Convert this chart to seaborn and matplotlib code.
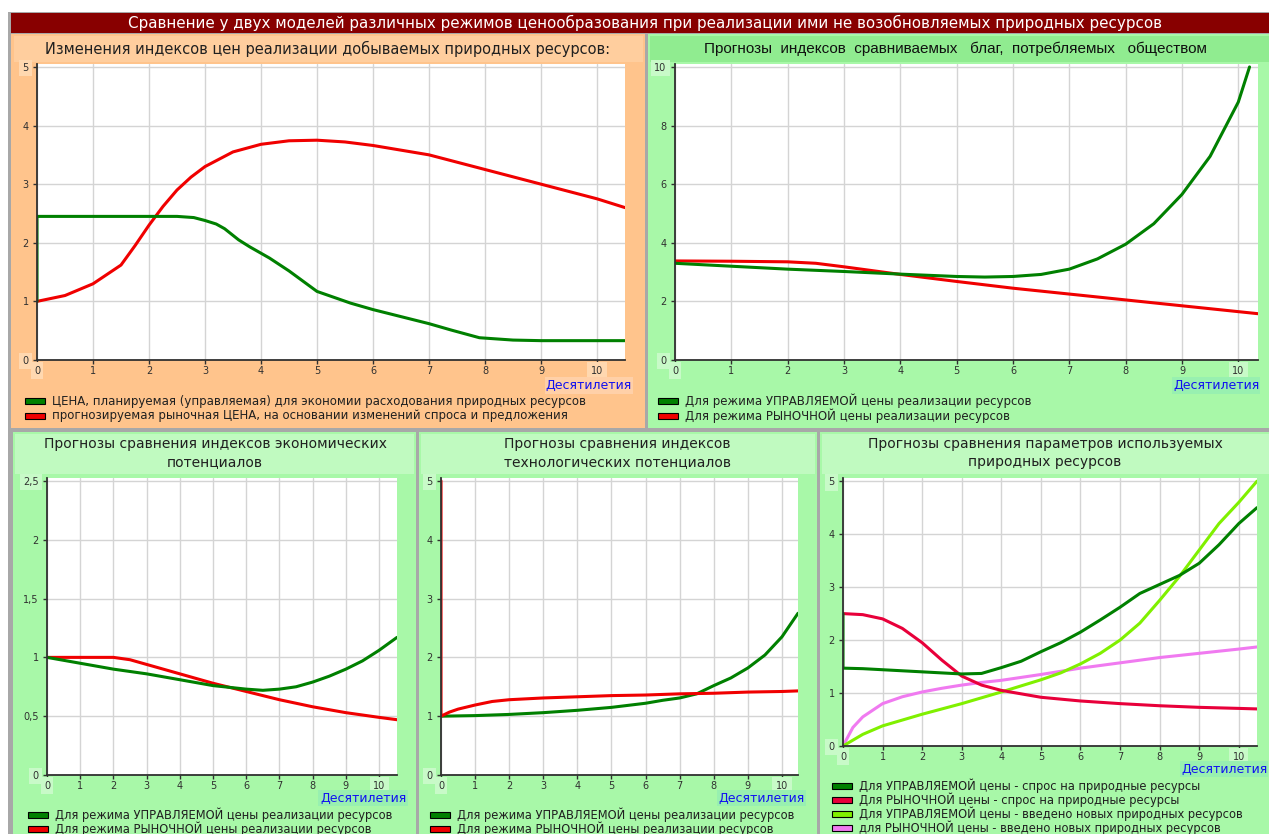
import matplotlib
matplotlib.use("Agg")
import matplotlib.pyplot as plt
from matplotlib.patches import Rectangle
import seaborn as sns
import pandas as pd

# ---------------- data ----------------
main_title = "Сравнение у двух моделей различных режимов ценообразования при реализации ими не возобновляемых природных ресурсов"
xticks = list(range(11))
xtick_labels = [str(i) for i in xticks]
x_label = "Десятилетия"

# top-left: price indices
tl_title = "Изменения индексов цен реализации добываемых природных ресурсов:"
tl_green_x = [0, 0, 0.5, 1, 1.5, 2, 2.5, 2.8, 3.0, 3.2, 3.35, 3.6, 3.8, 4.15, 4.5, 5.0, 5.6, 6.0, 6.5, 7.0, 7.4, 7.9, 8.5, 9.0, 10.5]
tl_green_y = [1.0, 2.45, 2.45, 2.45, 2.45, 2.45, 2.45, 2.43, 2.38, 2.32, 2.24, 2.05, 1.93, 1.74, 1.52, 1.17, 0.97, 0.86, 0.74, 0.62, 0.51, 0.38, 0.34, 0.33, 0.33]
tl_red_x = [0, 0.5, 1.0, 1.5, 1.75, 2.0, 2.25, 2.5, 2.75, 3.0, 3.5, 4.0, 4.5, 5.0, 5.5, 6.0, 7.0, 8.0, 9.0, 10.0, 10.5]
tl_red_y = [1.0, 1.1, 1.3, 1.62, 1.95, 2.3, 2.62, 2.9, 3.12, 3.3, 3.55, 3.68, 3.74, 3.75, 3.72, 3.66, 3.5, 3.25, 3.0, 2.75, 2.6]
tl_yticks = [0, 1, 2, 3, 4, 5]
tl_legend = ["ЦЕНА, планируемая (управляемая) для экономии расходования природных ресурсов",
             "прогнозируемая рыночная ЦЕНА, на основании изменений спроса и предложения"]

# top-right: goods indices
tr_title = "Прогнозы  индексов  сравниваемых   благ,  потребляемых   обществом"
tr_green_x = [0, 1, 2, 3, 4, 5, 5.5, 6, 6.5, 7, 7.5, 8, 8.5, 9, 9.5, 10, 10.2]
tr_green_y = [3.3, 3.2, 3.1, 3.02, 2.93, 2.85, 2.83, 2.85, 2.92, 3.1, 3.45, 3.95, 4.65, 5.65, 6.95, 8.8, 10.0]
tr_red_x = [0, 1, 2, 2.5, 3, 3.5, 4, 5, 6, 7, 8, 9, 10, 10.35]
tr_red_y = [3.38, 3.37, 3.35, 3.3, 3.18, 3.05, 2.92, 2.68, 2.45, 2.25, 2.05, 1.85, 1.65, 1.58]
tr_yticks = [0, 2, 4, 6, 8, 10]
regime_legend = ["Для режима УПРАВЛЯЕМОЙ цены реализации ресурсов",
                 "Для режима РЫНОЧНОЙ цены реализации ресурсов"]

# bottom-left: economic potentials
bl_title = "Прогнозы сравнения индексов экономических\nпотенциалов"
bl_green_x = [0, 1, 2, 3, 4, 5, 6, 6.5, 7, 7.5, 8, 8.5, 9, 9.5, 10, 10.54]
bl_green_y = [1.0, 0.95, 0.9, 0.86, 0.81, 0.76, 0.73, 0.72, 0.73, 0.75, 0.79, 0.84, 0.9, 0.97, 1.06, 1.17]
bl_red_x = [0, 1, 2, 2.5, 3, 4, 5, 6, 7, 8, 9, 10, 10.54]
bl_red_y = [1.0, 1.0, 1.0, 0.98, 0.94, 0.86, 0.78, 0.71, 0.64, 0.58, 0.53, 0.49, 0.47]
bl_yticks = [0, 0.5, 1, 1.5, 2, 2.5]
bl_ytick_labels = ["0", "0,5", "1", "1,5", "2", "2,5"]

# bottom-middle: technological potentials
bm_title = "Прогнозы сравнения индексов\nтехнологических потенциалов"
bm_green_x = [0, 1, 2, 3, 4, 5, 6, 6.5, 7, 7.5, 8, 8.5, 9, 9.5, 10, 10.47]
bm_green_y = [1.0, 1.01, 1.03, 1.06, 1.1, 1.15, 1.22, 1.27, 1.31, 1.38, 1.52, 1.65, 1.82, 2.04, 2.35, 2.75]
bm_red_x = [0, 0, 0.25, 0.5, 1, 1.5, 2, 3, 4, 5, 6, 7, 8, 9, 10, 10.47]
bm_red_y = [5.0, 1.0, 1.07, 1.12, 1.19, 1.25, 1.28, 1.31, 1.33, 1.35, 1.36, 1.38, 1.39, 1.41, 1.42, 1.43]
bm_yticks = [0, 1, 2, 3, 4, 5]

# bottom-right: natural resources parameters
br_title = "Прогнозы сравнения параметров используемых\nприродных ресурсов"
br_dgreen_x = [0, 0, 0.5, 1, 2, 3, 3.5, 4, 4.5, 5, 5.5, 6, 6.5, 7, 7.5, 8, 8.5, 9, 9.5, 10, 10.46]
br_dgreen_y = [2.5, 1.47, 1.46, 1.44, 1.4, 1.36, 1.37, 1.48, 1.6, 1.78, 1.95, 2.15, 2.38, 2.62, 2.88, 3.05, 3.22, 3.45, 3.8, 4.2, 4.5]
br_red_x = [0, 0.5, 1, 1.5, 2, 2.5, 3, 3.5, 4, 5, 6, 7, 8, 9, 10, 10.46]
br_red_y = [2.5, 2.48, 2.4, 2.22, 1.95, 1.62, 1.32, 1.15, 1.05, 0.92, 0.85, 0.8, 0.76, 0.73, 0.71, 0.7]
br_lgreen_x = [0, 0.5, 1, 2, 3, 4, 5, 5.5, 6, 6.5, 7, 7.5, 8, 8.5, 9, 9.5, 10, 10.46]
br_lgreen_y = [0, 0.22, 0.38, 0.6, 0.8, 1.02, 1.25, 1.38, 1.55, 1.75, 2.0, 2.32, 2.75, 3.2, 3.7, 4.2, 4.6, 5.0]
br_pink_x = [0, 0.25, 0.5, 1, 1.5, 2, 2.5, 3, 3.5, 4, 5, 6, 7, 8, 9, 10, 10.46]
br_pink_y = [0, 0.35, 0.55, 0.8, 0.93, 1.02, 1.09, 1.15, 1.2, 1.24, 1.35, 1.47, 1.57, 1.67, 1.75, 1.83, 1.87]
br_yticks = [0, 1, 2, 3, 4, 5]
br_legend = ["Для УПРАВЛЯЕМОЙ цены - спрос на природные ресурсы",
             "Для РЫНОЧНОЙ цены - спрос на природные ресурсы",
             "Для УПРАВЛЯЕМОЙ цены - введено новых природных ресурсов",
             "для РЫНОЧНОЙ цены - введено новых природных ресурсов"]

# ---------------- style ----------------
GREEN = "#008000"
RED = "#F00000"
CRIMSON = "#E8003A"
LGREEN = "#80F000"
PINK = "#F07AF0"
ORANGE_BG = "#FFC48C"
ORANGE_TITLE = "#FFCE9E"
ORANGE_BOX = "#FFD8B0"
GREEN_BG = "#A8F8A8"
GREEN_TITLE_TOP = "#90EC90"
GREEN_TITLE_BOT = "#C0FAC0"
GREEN_BOX = "#C8FAC8"
XLAB_BOX_G = "#98F0B0"
XLAB_BOX_O = "#FFD0A8"

W, H = 1269, 834
sns.set_theme(style="white")
plt.rcParams['font.family'] = ['DejaVu Sans']

fig = plt.figure(figsize=(W / 100, H / 100), dpi=100)
fig.patch.set_facecolor("white")


def rect(x0, y0, x1, y1, color, ec="none", lw=0, z=-5):
    fig.patches.append(Rectangle((x0 / W, 1 - y1 / H), (x1 - x0) / W, (y1 - y0) / H,
                                 transform=fig.transFigure, facecolor=color,
                                 edgecolor=ec, linewidth=lw, zorder=z))


def ftext(x, y, s, **kw):
    kw.setdefault("va", "center")
    fig.text(x / W, 1 - y / H, s, **kw)


def add_ax(x0, y0, x1, y1):
    return fig.add_axes([x0 / W, 1 - y1 / H, (x1 - x0) / W, (y1 - y0) / H])


# frame / panels
rect(8, 12, W, H, "#A8A8A8")
rect(11, 13, W, 33, "#880000")
ftext(645, 23, main_title, color="white", ha="center", fontsize=10.9)

rect(11, 34, 645, 428, ORANGE_BG)
rect(14, 36, 643, 62, ORANGE_TITLE)
rect(648, 34, W, 428, GREEN_BG)
rect(650, 36, W, 62, GREEN_TITLE_TOP)

rect(13, 432, 416, H, GREEN_BG)
rect(15, 434, 414, 474, GREEN_TITLE_BOT)
rect(419, 432, 817, H, GREEN_BG)
rect(421, 434, 815, 474, GREEN_TITLE_BOT)
rect(820, 432, W, H, GREEN_BG)
rect(822, 434, W, 474, GREEN_TITLE_BOT)


def style_axes(ax, xmax, ymax, yticks, ylabels, box_color):
    ax.set_facecolor("white")
    ax.set_xlim(0, xmax)
    ax.set_ylim(0, ymax)
    ax.set_xticks(xticks)
    ax.set_xticklabels(xtick_labels)
    ax.set_yticks(yticks)
    ax.set_yticklabels(ylabels)
    ax.grid(True, color="#D4D4D4", lw=1)
    ax.set_axisbelow(True)
    for s in ["top", "right"]:
        ax.spines[s].set_visible(False)
    for s in ["left", "bottom"]:
        ax.spines[s].set_color("#303030")
        ax.spines[s].set_linewidth(1.3)
    ax.tick_params(axis="both", direction="out", length=3, width=1, colors="#303030",
                   labelsize=7, bottom=True, left=True)
    ax.tick_params(axis="x", pad=1)
    ax.tick_params(axis="y", pad=3)
    ax.set_xlabel("")
    ax.set_ylabel("")
    if ax.get_legend() is not None:
        ax.get_legend().remove()
    bb = dict(boxstyle="square,pad=0.35", fc=box_color, ec="none")
    xl = ax.get_xticklabels()
    xl[0].set_bbox(bb)
    xl[-1].set_bbox(bb)
    yl = ax.get_yticklabels()
    yl[0].set_bbox(bb)
    yl[-1].set_bbox(bb)


def draw(ax, xs, ys, color):
    df = pd.DataFrame({"x": xs, "y": ys})
    sns.lineplot(data=df, x="x", y="y", ax=ax, color=color, lw=2.2,
                 sort=False, estimator=None)


def legend_rows(x, y0, dy, labels, colors, fs=8.5):
    for i, (lab, col) in enumerate(zip(labels, colors)):
        y = y0 + i * dy
        rect(x, y - 3, x + 20, y + 3, col, ec="black", lw=0.8, z=2)
        ftext(x + 27, y, lab, color="#202020", fontsize=fs, ha="left")


def xlab_box(x0, y0, x1, y1, color):
    rect(x0, y0, x1, y1, color, z=1)
    ftext((x0 + x1) / 2, (y0 + y1) / 2, x_label, color="#1010F0", fontsize=9, ha="center")


# ---- top-left ----
ax = add_ax(37, 64, 625, 360)
draw(ax, tl_red_x, tl_red_y, RED)
draw(ax, tl_green_x, tl_green_y, GREEN)
style_axes(ax, 10.5, 5.05, tl_yticks, [str(v) for v in tl_yticks], ORANGE_BOX)
ftext(328, 49, tl_title, color="#202020", fontsize=10.5, ha="center")
xlab_box(545, 377, 633, 394, XLAB_BOX_O)
legend_rows(25, 401, 15, tl_legend, [GREEN, RED])

# ---- top-right ----
ax = add_ax(675, 64, 1258, 360)
draw(ax, tr_red_x, tr_red_y, RED)
draw(ax, tr_green_x, tr_green_y, GREEN)
style_axes(ax, 10.35, 10.1, tr_yticks, [str(v) for v in tr_yticks], GREEN_BOX)
ftext(955, 49, tr_title, color="#101010", fontsize=11, ha="center",
      family=["Liberation Sans", "DejaVu Sans"])
xlab_box(1172, 377, 1260, 394, XLAB_BOX_G)
legend_rows(658, 401, 15, regime_legend, [GREEN, RED])

# ---- bottom-left ----
ax = add_ax(47, 478, 397, 775)
draw(ax, bl_red_x, bl_red_y, RED)
draw(ax, bl_green_x, bl_green_y, GREEN)
style_axes(ax, 10.54, 2.525, bl_yticks, bl_ytick_labels, GREEN_BOX)
ftext(215, 453, bl_title, color="#202020", fontsize=10, ha="center", linespacing=1.45)
xlab_box(318, 790, 408, 806, XLAB_BOX_G)
legend_rows(28, 815, 13.5, regime_legend, [GREEN, RED], fs=8.3)

# ---- bottom-middle ----
ax = add_ax(441, 478, 798, 775)
draw(ax, bm_green_x, bm_green_y, GREEN)
draw(ax, bm_red_x, bm_red_y, RED)
style_axes(ax, 10.47, 5.05, bm_yticks, [str(v) for v in bm_yticks], GREEN_BOX)
ftext(617, 453, bm_title, color="#202020", fontsize=10, ha="center", linespacing=1.45)
xlab_box(717, 790, 806, 806, XLAB_BOX_G)
legend_rows(430, 815, 13.5, regime_legend, [GREEN, RED], fs=8.3)

# ---- bottom-right ----
ax = add_ax(843, 478, 1257, 746)
draw(ax, br_pink_x, br_pink_y, PINK)
draw(ax, br_lgreen_x, br_lgreen_y, LGREEN)
draw(ax, br_red_x, br_red_y, CRIMSON)
draw(ax, br_dgreen_x, br_dgreen_y, GREEN)
style_axes(ax, 10.46, 5.06, br_yticks, [str(v) for v in br_yticks], GREEN_BOX)
ftext(1045, 453, br_title, color="#202020", fontsize=10, ha="center", linespacing=1.45)
xlab_box(1180, 761, 1268, 777, XLAB_BOX_G)
legend_rows(832, 786, 14, br_legend, [GREEN, CRIMSON, LGREEN, PINK], fs=8.3)

fig.savefig("out.png", dpi=100)
